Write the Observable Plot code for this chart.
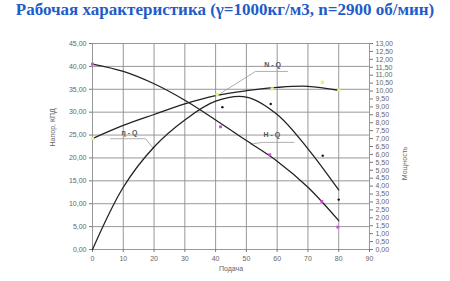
<!DOCTYPE html>
<html><head><meta charset="utf-8">
<script src="https://cdn.jsdelivr.net/npm/d3@7"></script>
<script src="https://cdn.jsdelivr.net/npm/@observablehq/plot@0.6"></script>
<style>
body{margin:0;background:#fff;width:450px;height:281px;overflow:hidden}
#title{height:30px;line-height:30px;text-align:center;font:bold 17px "Liberation Serif",serif;color:#1f5cc8;white-space:nowrap}
</style></head>
<body>
<div id="title">Рабочая характеристика (γ=1000кг/м3, n=2900 об/мин)</div>
<div id="chart"></div>
<script>
// Flow (подача)
const flow = [0, 10, 20, 30, 40, 50, 60, 70, 80];
// Head H-Q (left axis)
const head = [40.5, 38.9, 36.2, 32.6, 28.3, 23.8, 19.3, 13.6, 6.3];
// Efficiency η-Q (left axis)
const eff = [0, 13.6, 22.4, 28.3, 32.4, 33.3, 29.5, 22.0, 13.0];
// Power N-Q (right axis, kW)
const power = [7.0, 7.83, 8.52, 9.19, 9.71, 10.02, 10.23, 10.30, 10.05];

// Measured points
const headPtQ = [0, 41.6, 57.6, 74.5, 79.7];
const headPt = [40.5, 26.8, 20.7, 10.5, 4.9];
const effPtQ = [42.2, 57.9, 74.8, 80];
const effPt = [31.1, 31.8, 20.5, 10.9];
const powPtQ = [0, 40.5, 58.4, 74.7, 80];
const powPt = [7.0, 9.77, 10.14, 10.55, 10.05];

// Tick labels
const xTicks = d3.range(0, 91, 10);
const leftTicks = d3.range(0, 46, 5);
const rightTicks = d3.range(0, 13.01, 0.5);
const leftMax = 45, rightMax = 13;

// Curve labels with leader lines [q, value]
const labels = [
  {text: "N - Q", at: [58.5, 40.4], leader: [[41.6, 34.1], [53, 38.9], [63.4, 38.9]]},
  {text: "η - Q", at: [12.0, 25.6], leader: [[5.9, 24.2], [17.2, 24.2], [19.9, 22.0]]},
  {text: "H - Q", at: [58.3, 25.1], leader: [[51.3, 23.0], [55.2, 23.4], [65.5, 23.4]]}
];

const toLeft = v => v * leftMax / rightMax;
const fmt = v => d3.format(".2f")(v).replace(".", ",");
const series = (qs, vs, f = v => v) => qs.map((q, i) => ({q, v: f(vs[i])}));

const chart = Plot.plot({
  width: 450, height: 251,
  marginLeft: 92, marginRight: 81, marginTop: 13, marginBottom: 32,
  x: {domain: [0, 90]},
  y: {domain: [0, 45]},
  style: {fontFamily: "'Liberation Sans', Arial, sans-serif", fontSize: "7px", color: "#666", background: "#fff"},
  marks: [
    Plot.ruleY(leftTicks, {stroke: "#8c8c8c", strokeWidth: 0.9}),
    Plot.ruleX(xTicks, {stroke: "#8c8c8c", strokeWidth: 0.9}),
    Plot.axisX({ticks: xTicks, tickSize: 3, tickPadding: 4, label: null, tickFormat: d => d, stroke: "#777"}),
    Plot.axisY({ticks: leftTicks, tickSize: 3, tickPadding: 3, label: null, tickFormat: fmt, stroke: "#777"}),
    Plot.axisY({anchor: "right", ticks: rightTicks.map(toLeft), tickSize: 3, tickPadding: 3, label: null,
                tickFormat: d => fmt(Math.round(d * rightMax / leftMax * 2) / 2), stroke: "#777"}),
    Plot.text(["Напор, КПД"], {frameAnchor: "left", rotate: -90, dx: -40, fill: "#666"}),
    Plot.text(["Мощность"], {frameAnchor: "right", rotate: -90, dx: 35, fill: "#666"}),
    Plot.text(["Подача"], {frameAnchor: "bottom", dy: 21, fill: "#666"}),
    // leaders
    ...labels.map(l => Plot.line(l.leader, {x: d => d[0], y: d => d[1], stroke: "#9a9a9a", strokeWidth: 0.8})),
    Plot.text(labels, {x: d => d.at[0], y: d => d.at[1], text: "text", fontWeight: "bold", fill: "#555", fontSize: 7}),
    // curves
    Plot.line(series(flow, head), {x: "q", y: "v", curve: "catmull-rom", stroke: "#222", strokeWidth: 1.3}),
    Plot.line(series(flow, eff), {x: "q", y: "v", curve: "catmull-rom", stroke: "#222", strokeWidth: 1.3}),
    Plot.line(series(flow, power, toLeft), {x: "q", y: "v", curve: "catmull-rom", stroke: "#222", strokeWidth: 1.3}),
    // points
    Plot.dot(series(headPtQ, headPt), {x: "q", y: "v", symbol: "square", r: 1.6, fill: "#d448d4", stroke: "none"}),
    Plot.dot(series(effPtQ, effPt), {x: "q", y: "v", r: 1.2, fill: "#111", stroke: "none"}),
    Plot.dot(series(powPtQ, powPt, toLeft), {x: "q", y: "v", symbol: "square", r: 1.8, fill: "#eeee70", stroke: "none"})
  ]
});
document.getElementById("chart").appendChild(chart);
</script>
</body></html>
